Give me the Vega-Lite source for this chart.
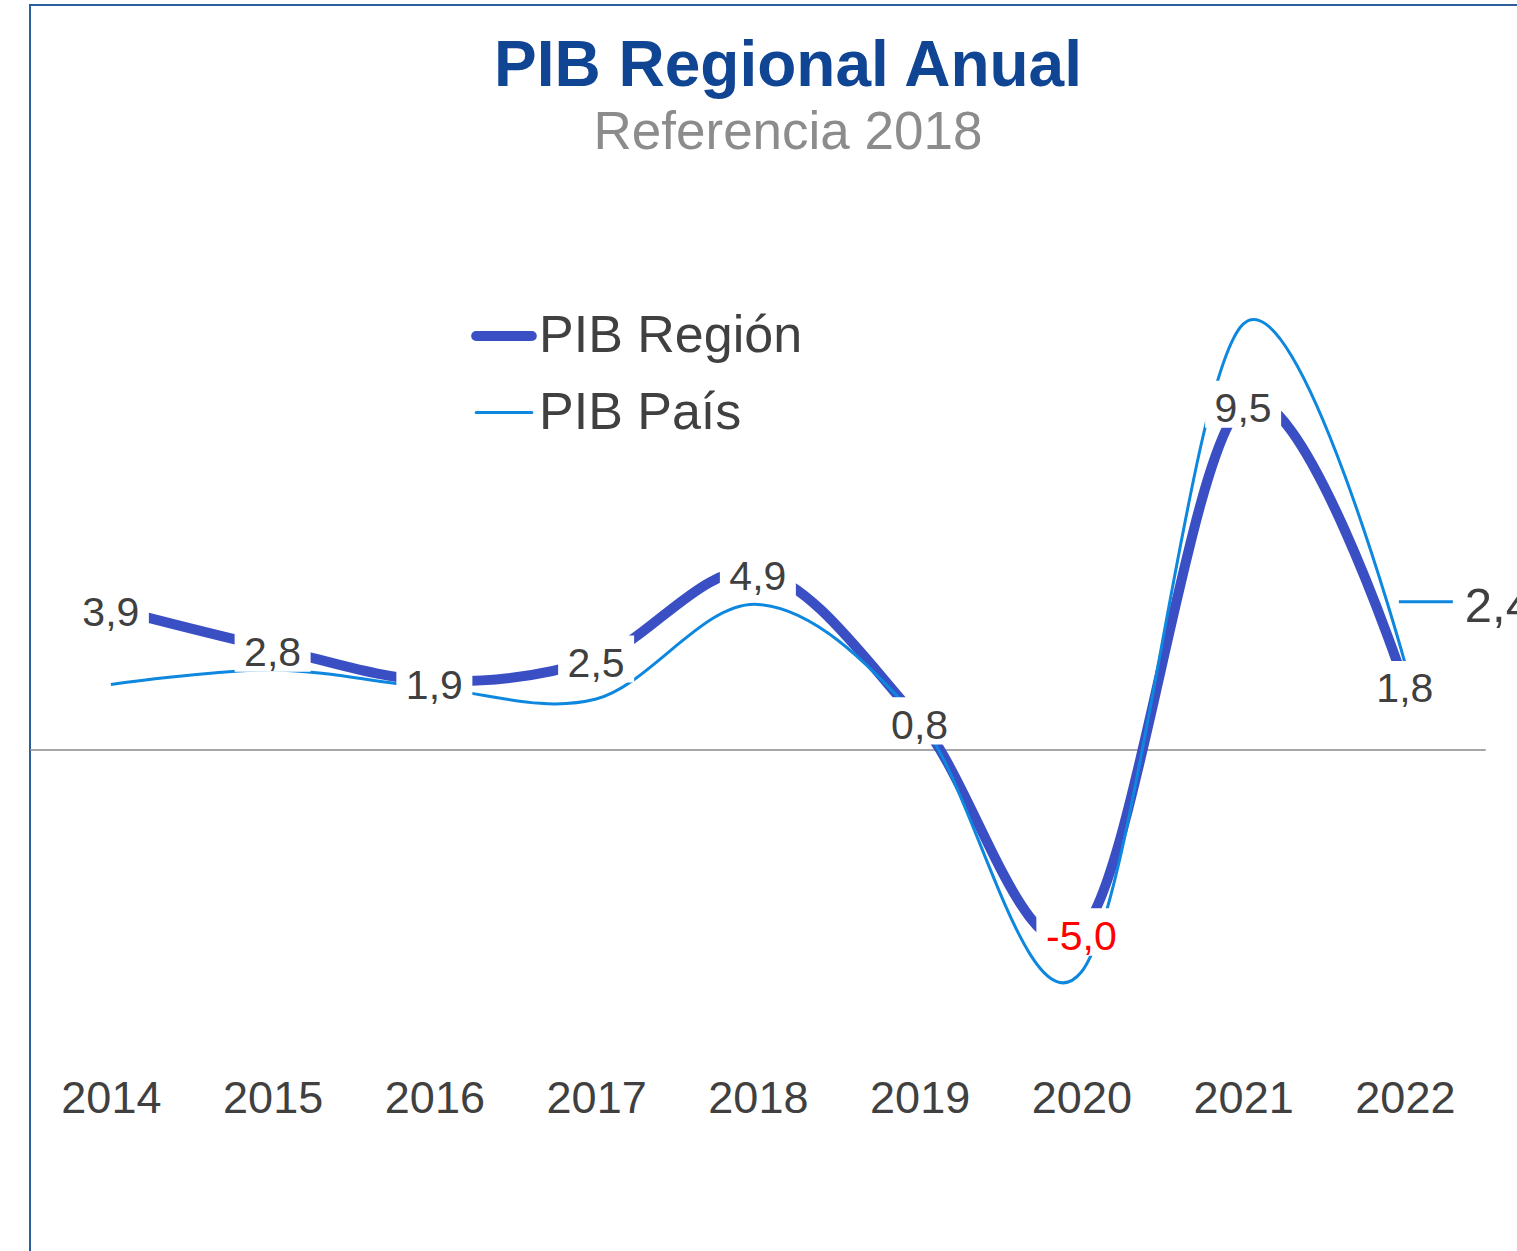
{
  "$schema": "https://vega.github.io/schema/vega-lite/v6.json",
  "autosize": {"type": "none"},
  "padding": {"left": 30, "top": 5, "right": -13, "bottom": -14},
  "width": 1500,
  "height": 1260,
  "background": "white",
  "config": {
    "font": "Liberation Sans",
    "view": {"stroke": "#2B5D9F", "strokeWidth": 2},
    "locale": {"number": {"decimal": ",", "thousands": ".", "grouping": [3], "currency": ["$", ""], "minus": "-"}}
  },
  "title": {
    "text": "PIB Regional Anual",
    "subtitle": "Referencia 2018",
    "anchor": "middle",
    "frame": "group",
    "orient": "top",
    "offset": -155,
    "dx": 8,
    "font": "Liberation Sans",
    "fontSize": 64,
    "fontWeight": "bold",
    "color": "#104594",
    "subtitleFont": "Liberation Sans",
    "subtitleFontSize": 53,
    "subtitleColor": "#8C8C8C",
    "subtitlePadding": 8
  },
  "data": {
    "values": [
      {"year": 2014, "serie": "PIB Región", "v": 3.9},
      {"year": 2015, "serie": "PIB Región", "v": 2.8},
      {"year": 2016, "serie": "PIB Región", "v": 1.9},
      {"year": 2017, "serie": "PIB Región", "v": 2.5},
      {"year": 2018, "serie": "PIB Región", "v": 4.9},
      {"year": 2019, "serie": "PIB Región", "v": 0.8},
      {"year": 2020, "serie": "PIB Región", "v": -5.0},
      {"year": 2021, "serie": "PIB Región", "v": 9.5},
      {"year": 2022, "serie": "PIB Región", "v": 1.8},
      {"year": 2014, "serie": "PIB País", "v": 1.8},
      {"year": 2015, "serie": "PIB País", "v": 2.2},
      {"year": 2016, "serie": "PIB País", "v": 1.7},
      {"year": 2017, "serie": "PIB País", "v": 1.4},
      {"year": 2018, "serie": "PIB País", "v": 4.0},
      {"year": 2019, "serie": "PIB País", "v": 0.8},
      {"year": 2020, "serie": "PIB País", "v": -6.1},
      {"year": 2021, "serie": "PIB País", "v": 11.7},
      {"year": 2022, "serie": "PIB País", "v": 2.4}
    ]
  },
  "encoding": {
    "x": {
      "field": "year", "type": "quantitative",
      "scale": {"domain": [2013.5, 2022.7736], "nice": false, "zero": false},
      "axis": {
        "title": null, "values": [2014, 2015, 2016, 2017, 2018, 2019, 2020, 2021, 2022],
        "format": "d", "grid": false, "domain": false, "ticks": false, "tickSize": 0,
        "labelPadding": 0, "offset": -189, "labelFontSize": 45, "labelColor": "#404040",
        "labelFont": "Liberation Sans", "labelFlush": false, "labelOverlap": false
      }
    },
    "y": {
      "field": "v", "type": "quantitative",
      "scale": {"domain": [-14.148, 20.467], "nice": false, "zero": false},
      "axis": null
    }
  },
  "layer": [
    {
      "data": {"values": [{"a": 2013.5, "b": 2022.5, "z": 0}]},
      "mark": {"type": "rule", "color": "#8A8A8A", "strokeWidth": 1.3},
      "encoding": {
        "x": {"field": "a", "type": "quantitative"},
        "x2": {"field": "b"},
        "y": {"field": "z", "type": "quantitative"}
      }
    },
    {
      "mark": {"type": "line", "interpolate": "cardinal", "tension": 0, "strokeCap": "butt"},
      "encoding": {
        "color": {
          "field": "serie", "type": "nominal",
          "scale": {"domain": ["PIB Región", "PIB País"], "range": ["#3A4FC4", "#0E87DE"]},
          "legend": {
            "title": null, "orient": "none", "legendX": 441, "legendY": 298,
            "symbolType": "stroke", "symbolSize": 3100, "labelFontSize": 52,
            "labelColor": "#404040", "labelFont": "Liberation Sans", "rowPadding": 21,
            "labelOffset": 2, "padding": 0, "labelLimit": 0,
            "encode": {"symbols": {"update": {"strokeCap": {"value": "round"}}}}
          }
        },
        "strokeWidth": {
          "field": "serie", "type": "nominal",
          "scale": {"domain": ["PIB Región", "PIB País"], "range": [10, 3]},
          "legend": {
            "title": null, "orient": "none", "legendX": 441, "legendY": 298,
            "symbolType": "stroke", "symbolSize": 3100, "labelFontSize": 52,
            "labelColor": "#404040", "labelFont": "Liberation Sans", "rowPadding": 21,
            "labelOffset": 2, "padding": 0, "labelLimit": 0,
            "encode": {"symbols": {"update": {"strokeCap": {"value": "round"}}}}
          }
        },
        "order": {"field": "year", "type": "quantitative"}
      }
    },
    {
      "transform": [{"filter": "datum.serie === 'PIB País' && datum.year === 2022"}],
      "mark": {"type": "rule", "color": "#0E87DE", "strokeWidth": 3, "xOffset": -6, "x2Offset": 48, "yOffset": -61, "y2Offset": -61},
      "encoding": {
        "x2": {"field": "year"},
        "y2": {"field": "v"}
      }
    },
    {
      "transform": [{"filter": "datum.serie === 'PIB Región'"}],
      "mark": {"type": "point", "filled": true, "fill": "white", "stroke": null, "opacity": 1, "fillOpacity": 1},
      "encoding": {
        "shape": {
          "condition": {"test": "datum.v < 0", "value": "M-1,-0.53 L1,-0.53 L1,0.53 L-1,0.53 Z"},
          "value": "M-1,-0.62 L1,-0.62 L1,0.62 L-1,0.62 Z"
        },
        "size": {
          "condition": {"test": "datum.v < 0", "value": 8100},
          "value": 5776
        }
      }
    },
    {
      "transform": [{"filter": "datum.serie === 'PIB Región'"}],
      "mark": {"type": "text", "fontSize": 41, "baseline": "middle", "align": "center", "dy": 6, "font": "Liberation Sans"},
      "encoding": {
        "text": {"field": "v", "type": "quantitative", "format": ".1f"},
        "color": {
          "condition": {"test": "datum.v < 0", "value": "#FF0000"},
          "value": "#404040"
        }
      }
    },
    {
      "transform": [{"filter": "datum.serie === 'PIB País' && datum.year === 2022"}],
      "mark": {"type": "text", "fontSize": 49, "baseline": "alphabetic", "align": "left", "dx": 60, "dy": -41, "font": "Liberation Sans", "color": "#404040"},
      "encoding": {
        "text": {"field": "v", "type": "quantitative", "format": ".1f"}
      }
    }
  ]
}
